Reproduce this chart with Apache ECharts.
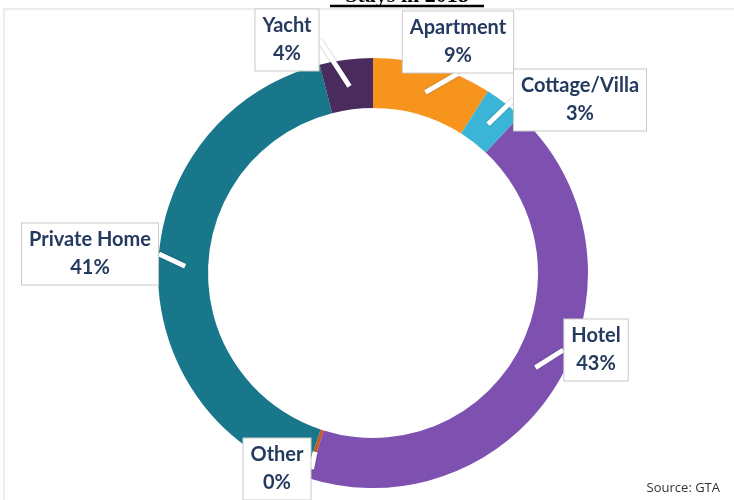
<!DOCTYPE html>
<html>
<head>
<meta charset="utf-8">
<script src="https://cdn.jsdelivr.net/npm/echarts@6/dist/echarts.min.js"></script>
<style>
  html, body { margin: 0; padding: 0; background: #fff; }
  #main { width: 734px; height: 500px; }
</style>
</head>
<body>
<div id="main"></div>
<script>
// segments clockwise from 12 o'clock
var names = ['Apartment', 'Cottage/Villa', 'Hotel', 'Other', 'Private Home', 'Yacht'];
var shares = [9, 3, 43, 0.3, 41, 4];
var colors = ['#f7941e', '#3ab5d7', '#7e51b0', '#c85a1c', '#19778b', '#4a2b5e'];

// where each callout box sits (centre), same order as names
var boxPos = [
  [458, 42], [580, 100], [596, 350], [277, 469], [90, 254], [287, 40]
];

var ringData = [], calloutData = [];
for (var i = 0; i < names.length; i++) {
  ringData.push({ name: names[i], value: shares[i], itemStyle: { color: colors[i] } });
  calloutData.push({ name: names[i], value: shares[i] });
}

var ec = echarts.init(document.getElementById('main'));
ec.setOption({
  animation: false,
  graphic: [{
    type: 'rect',
    shape: { x: 4, y: 9, width: 740, height: 500 },
    style: { fill: 'none', stroke: '#ededed', lineWidth: 2 },
    silent: true
  }, {
    type: 'text',
    x: 407,
    y: 7,
    style: {
      text: 'Stays in 2018',
      font: 'bold 22px "Liberation Serif"',
      fill: '#000',
      textAlign: 'center',
      textVerticalAlign: 'bottom'
    }
  }, {
    type: 'line',
    shape: { x1: 330, y1: 6, x2: 484, y2: 6 },
    style: { stroke: '#000', lineWidth: 2.5 }
  }, {
    type: 'text',
    right: 14,
    bottom: 5,
    style: {
      text: 'Source: GTA',
      font: '13px "Open Sans"',
      fill: '#333'
    }
  }],
  series: [{
    // the coloured ring
    type: 'pie',
    center: [373, 273],
    radius: [165, 215],
    startAngle: 90,
    clockwise: true,
    silent: true,
    label: { show: false },
    labelLine: { show: false },
    data: ringData
  }, {
    // transparent copy that carries the callout boxes, pointer starts mid-ring
    type: 'pie',
    center: [373, 273],
    radius: [180, 188],
    startAngle: 90,
    clockwise: true,
    silent: true,
    z: 3,
    avoidLabelOverlap: false,
    itemStyle: { color: 'rgba(0,0,0,0)' },
    data: calloutData,
    label: {
      show: true,
      position: 'outside',
      formatter: function (p) {
        return p.name + '\n' + Math.round(p.percent) + '%';
      },
      fontFamily: 'Lato',
      fontWeight: 'bold',
      fontSize: 20,
      lineHeight: 28,
      color: '#243a5f',
      align: 'center',
      backgroundColor: '#fff',
      borderColor: '#c9c9c9',
      borderWidth: 1,
      padding: [3, 7, 2, 7]
    },
    labelLine: {
      show: true,
      length: 0,
      length2: 0,
      lineStyle: {
        color: '#fff',
        width: 5,
        shadowColor: 'rgba(0,0,0,0.35)',
        shadowBlur: 2
      }
    },
    labelLayout: function (p) {
      var pos = boxPos[p.dataIndex];
      return { x: pos[0], y: pos[1], align: 'center', verticalAlign: 'middle' };
    }
  }]
});
</script>
</body>
</html>
